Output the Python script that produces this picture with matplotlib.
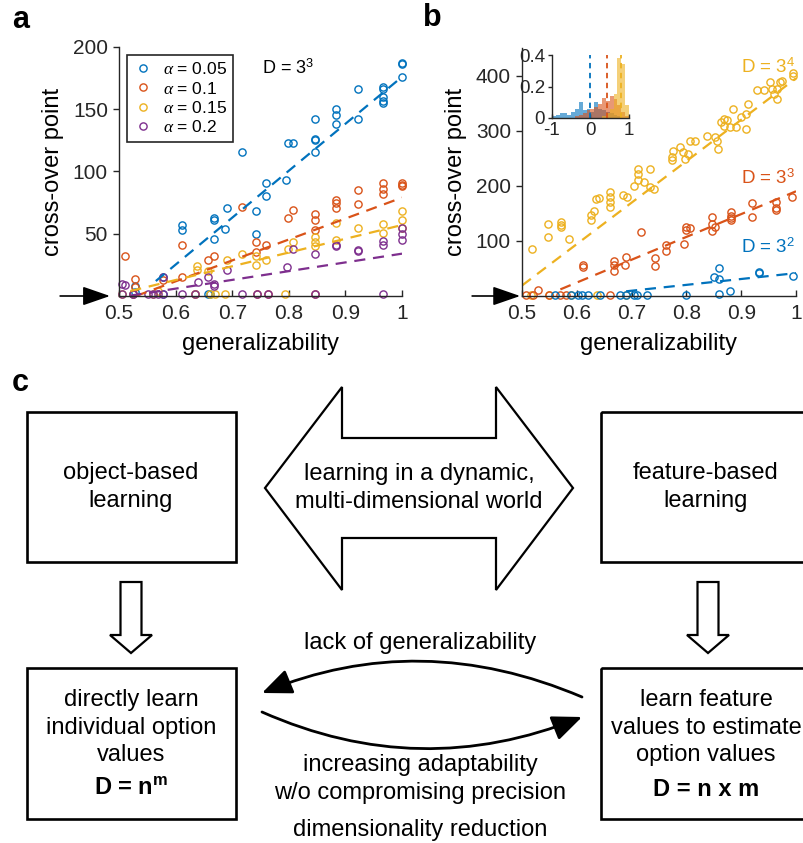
import numpy as np
import matplotlib
matplotlib.use('Agg')
import matplotlib.pyplot as plt
from matplotlib.patches import Polygon, Rectangle, FancyArrowPatch
from matplotlib.path import Path
from matplotlib.ticker import FormatStrFormatter

plt.rcParams['font.family'] = ['Liberation Sans', 'DejaVu Sans']
plt.rcParams['mathtext.fontset'] = 'custom'
plt.rcParams['mathtext.rm'] = 'Liberation Sans'
plt.rcParams['mathtext.it'] = 'Liberation Serif:italic'
plt.rcParams['mathtext.bf'] = 'Liberation Sans:bold'

BLUE, ORANGE, YELLOW, PURPLE = '#0072BD', '#D95319', '#EDB120', '#7E2F8E'
AXC = '#262626'

# ---------------- panel a data (D = 3^3) ----------------
alpha_labels = [r'$\alpha$ = 0.05', r'$\alpha$ = 0.1', r'$\alpha$ = 0.15', r'$\alpha$ = 0.2']

a_blue_g = [1.0, 1.0, 1.0, 0.966, 0.966, 0.966, 0.966, 0.966, 0.922, 0.922, 0.884, 0.884, 0.884,
            0.846, 0.846, 0.846, 0.846, 0.799, 0.808, 0.795, 0.76, 0.76, 0.742, 0.742, 0.718, 0.69,
            0.687, 0.668, 0.668, 0.668, 0.611, 0.611, 0.578, 0.528, 0.528, 0.657, 0.525, 0.578, 0.661]
a_blue_v = [187, 186, 176, 168, 166, 160, 157, 155, 166, 142, 150, 145, 138,
            142, 126, 125, 116, 123, 123, 93, 91, 80, 50, 68, 116, 71,
            54, 63, 61, 46, 57, 53, 15, 8, 3, 1.5, 1.5, 1.5, 1.5]

a_orange_g = [1.0, 1.0, 1.0, 0.966, 0.966, 0.966, 0.922, 0.922, 0.884, 0.884, 0.884,
              0.846, 0.846, 0.846, 0.808, 0.799, 0.76, 0.742, 0.742, 0.718, 0.668, 0.657,
              0.611, 0.611, 0.578, 0.528, 0.528, 0.51, 0.525, 0.634, 0.743, 0.763, 0.846]
a_orange_v = [91, 89, 88, 91, 86, 82, 85, 74, 77, 75, 71,
              66, 61, 53, 69, 63, 41, 43, 35, 71.5, 32, 29,
              41, 15, 13, 14, 7, 32, 1.5, 1.5, 1.5, 1.5, 1.5]

a_yellow_g = [1.0, 1.0, 1.0, 0.966, 0.966, 0.922, 0.884, 0.884, 0.846, 0.846, 0.846,
              0.808, 0.799, 0.76, 0.742, 0.742, 0.718, 0.69, 0.637, 0.637, 0.657, 0.569,
              0.505, 0.56, 0.634, 0.661, 0.67, 0.687, 0.794]
a_yellow_v = [68, 61, 55, 58, 51, 55, 59, 45, 47, 43, 40,
              43, 38, 29, 32, 25, 34, 29, 24, 21, 20, 4,
              1.5, 1.5, 1.5, 1.5, 1.5, 1.5, 1.5]

a_purple_g = [1.0, 1.0, 1.0, 0.966, 0.966, 0.922, 0.922, 0.884, 0.884, 0.846, 0.808, 0.796,
              0.69, 0.668, 0.668, 0.657, 0.64, 0.578, 0.505, 0.511,
              0.505, 0.525, 0.551, 0.56, 0.569, 0.578, 0.611, 0.634, 0.717, 0.743, 0.763, 0.846, 0.966]
a_purple_v = [55, 50, 45, 44, 41, 37, 36, 41, 40, 34, 38, 23,
              21, 10, 8, 15, 11, 15, 10, 9,
              1.5, 1.5, 1.5, 1.5, 1.5, 1.5, 1.5, 1.5, 1.5, 1.5, 1.5, 1.5, 1.5]

a_fit_g = [[0.565, 1.0], [0.53, 1.0], [0.52, 1.0], [0.52, 1.0]]
a_fit_v = [[12, 176], [0, 79], [4, 57], [0.3, 34]]

# ---------------- panel b data (alpha = 0.05, different D) ----------------
b_labels = [r'D = 3$^4$', r'D = 3$^3$', r'D = 3$^2$']
b_label_y = [415, 214, 89]

b_yellow_g = [0.519, 0.547, 0.547, 0.572, 0.572, 0.572, 0.586, 0.626, 0.626, 0.632, 0.635, 0.64,
              0.66, 0.66, 0.66, 0.66, 0.684, 0.691, 0.705, 0.712, 0.712, 0.712, 0.723, 0.734,
              0.734, 0.74, 0.774, 0.774, 0.775, 0.788, 0.794, 0.797, 0.803, 0.807, 0.815, 0.838,
              0.852, 0.856, 0.858, 0.864, 0.868, 0.874, 0.869, 0.879, 0.89, 0.885, 0.9, 0.909,
              0.908, 0.912, 0.929, 0.941, 0.953, 0.956, 0.959, 0.965, 0.965, 0.971, 0.975, 0.994,
              0.994, 0.517, 0.549, 0.59, 0.637, 0.689]
b_yellow_v = [86, 131, 107, 134, 129, 125, 104, 137, 147, 155, 176, 178,
              189, 179, 170, 162, 184, 179, 200, 231, 222, 210, 207, 231,
              198, 195, 252, 246, 264, 270, 261, 249, 258, 281, 281, 291,
              288, 282, 266, 315, 321, 320, 309, 306, 306, 340, 324, 330,
              303, 349, 374, 373, 388, 376, 367, 358, 376, 388, 391, 400,
              405, 2, 2, 2, 2, 2]

b_orange_g = [0.993, 0.964, 0.964, 0.964, 0.92, 0.92, 0.882, 0.882, 0.882, 0.882,
              0.846, 0.846, 0.846, 0.852, 0.8, 0.8, 0.807, 0.795, 0.763, 0.763, 0.742, 0.742,
              0.718, 0.689, 0.688, 0.668, 0.668, 0.668, 0.612, 0.612, 0.529,
              0.508, 0.57, 0.581, 0.66, 0.52, 0.55]
b_orange_v = [180, 170, 160, 156, 168, 144, 152, 146, 141, 137,
              144, 130, 118, 125, 126, 120, 123, 94, 92, 82, 69, 54,
              116, 71, 56, 63, 57, 45, 56, 53, 11,
              2, 2, 2, 2, 2, 2]

b_blue_g = [0.994, 0.932, 0.932, 0.859, 0.85, 0.859, 0.879, 0.859,
            0.59, 0.602, 0.61, 0.643, 0.678, 0.689, 0.704, 0.71, 0.728, 0.8, 0.56, 0.62]
b_blue_v = [37, 44, 42, 50, 35, 30, 9, 4,
            2, 2, 2, 2, 2, 2, 2, 2, 2, 2, 2, 2]

b_fit_g = [[0.5, 1.0], [0.57, 1.0], [0.69, 1.0]]
b_fit_v = [[19, 395], [12, 190], [8.5, 41.5]]

# inset histogram (bins of 0.1 from -1 to 1)
hist_edges = np.round(np.arange(-1.0, 1.01, 0.1), 2)
hist_blue = [0.01, 0.02, 0.03, 0.03, 0.02, 0.04, 0.06, 0.10, 0.05, 0.06,
             0.04, 0.10, 0.06, 0.05, 0.04, 0.03, 0.02, 0.01, 0.0, 0.0]
hist_orange = [0, 0, 0, 0, 0, 0, 0.01, 0.02, 0.03, 0.05,
               0.06, 0.07, 0.09, 0.13, 0.11, 0.14, 0.12, 0.08, 0.04, 0.01]
hist_yellow = [0, 0, 0, 0, 0, 0, 0, 0, 0, 0,
               0, 0, 0, 0.01, 0.03, 0.06, 0.15, 0.38, 0.34, 0.08]
hist_medians = [0.0, 0.42, 0.78]

xticks_main = [0.5, 0.6, 0.7, 0.8, 0.9, 1.0]

W, H = 804, 843
fig = plt.figure(figsize=(W / 100, H / 100), dpi=100)

# background axes in pixel coordinates for the diagram and panel letters
bg = fig.add_axes([0, 0, 1, 1])
bg.set_xlim(0, W)
bg.set_ylim(H, 0)
bg.axis('off')


def px_axes(left, right, top, bottom):
    return fig.add_axes([left / W, 1 - bottom / H, (right - left) / W, (bottom - top) / H])


def style_axes(ax, fs=15):
    for s in ['top', 'right']:
        ax.spines[s].set_visible(False)
    for s in ['left', 'bottom']:
        ax.spines[s].set_color(AXC)
        ax.spines[s].set_linewidth(1.0)
    ax.tick_params(axis='x', direction='in', length=4, width=1, colors=AXC, labelsize=fs, pad=6)
    ax.tick_params(axis='y', direction='out', length=4, width=1, colors=AXC, labelsize=fs, pad=4)
    ax.xaxis.set_major_formatter(FormatStrFormatter('%g'))


mk = dict(marker='o', ls='none', mfc='none', ms=5.2, mew=1.0, clip_on=False)
dash = dict(ls=(0, (5, 3.5)), lw=1.6)

# ---------------- panel a ----------------
axa = px_axes(119, 402, 47, 296)
series_a = [(a_blue_g, a_blue_v, BLUE), (a_orange_g, a_orange_v, ORANGE),
            (a_yellow_g, a_yellow_v, YELLOW), (a_purple_g, a_purple_v, PURPLE)]
for (g, v, c), lab in zip(series_a, alpha_labels):
    axa.plot(g, v, color=c, label=lab, **mk)
for (g, v, c), fg, fv in zip(series_a, a_fit_g, a_fit_v):
    axa.plot(fg, fv, color=c, **dash)
axa.set_xlim(0.5, 1.0)
axa.set_ylim(0, 200)
axa.set_xticks(xticks_main)
axa.set_yticks([50, 100, 150, 200])
style_axes(axa)
axa.set_xlabel('generalizability', fontsize=17, labelpad=7)
axa.set_ylabel('cross-over point', fontsize=17, labelpad=6)
leg = axa.legend(loc='upper left', bbox_to_anchor=(0.028, 0.968), borderaxespad=0,
                 fontsize=12.5, fancybox=False, edgecolor=AXC, framealpha=1,
                 handlelength=1.2, handletextpad=0.5, labelspacing=0.2, borderpad=0.35)
leg.get_frame().set_linewidth(1.2)
axa.text(0.753, 183, r'D = 3$^3$', fontsize=13, va='center', color='black')
axa.annotate('', xy=(0.484, 0), xytext=(0.396, 0), annotation_clip=False,
             arrowprops=dict(arrowstyle='-|>,head_length=1.3,head_width=0.45',
                             mutation_scale=13, color='black', lw=1.2, shrinkA=0, shrinkB=0))

# ---------------- panel b ----------------
axb = px_axes(522, 796, 48, 296)
series_b = [(b_yellow_g, b_yellow_v, YELLOW), (b_orange_g, b_orange_v, ORANGE),
            (b_blue_g, b_blue_v, BLUE)]
for (g, v, c) in series_b:
    axb.plot(g, v, color=c, **mk)
for (g, v, c), fg, fv in zip(series_b, b_fit_g, b_fit_v):
    axb.plot(fg, fv, color=c, **dash)
for (g, v, c), lab, ly in zip(series_b, b_labels, b_label_y):
    axb.text(0.9, ly, lab, color=c, fontsize=13.5, va='center', clip_on=False)
axb.set_xlim(0.5, 1.0)
axb.set_ylim(0, 450)
axb.set_xticks(xticks_main)
axb.set_yticks([100, 200, 300, 400])
style_axes(axb)
axb.set_xlabel('generalizability', fontsize=17, labelpad=7)
axb.set_ylabel('cross-over point', fontsize=17, labelpad=6)
axb.annotate('', xy=(0.4965, 0), xytext=(0.409, 0), annotation_clip=False,
             arrowprops=dict(arrowstyle='-|>,head_length=1.3,head_width=0.45',
                             mutation_scale=13, color='black', lw=1.2, shrinkA=0, shrinkB=0))

# inset
axi = px_axes(552, 629, 55, 118)
axi.set_facecolor('none')
centers = (hist_edges[:-1] + hist_edges[1:]) / 2
for h, c in [(hist_blue, BLUE), (hist_orange, ORANGE), (hist_yellow, YELLOW)]:
    axi.bar(centers, h, width=0.1, color=c, alpha=0.6, linewidth=0)
for m, c in zip(hist_medians, [BLUE, ORANGE, YELLOW]):
    axi.axvline(m, color=c, ls=(0, (3, 2.5)), lw=1.3)
axi.set_xlim(-1, 1)
axi.set_ylim(0, 0.4)
axi.set_xticks([-1, 0, 1])
axi.set_yticks([0, 0.2, 0.4])
style_axes(axi, fs=13.5)
axi.tick_params(axis='x', pad=3, length=3)
axi.tick_params(axis='y', pad=2, length=3)
axi.yaxis.set_major_formatter(FormatStrFormatter('%g'))

# ---------------- panel letters ----------------
for lab, x, y in [('a', 12, 20), ('b', 423, 18), ('c', 12, 383)]:
    bg.text(x, y, lab, fontsize=22, fontweight='bold', va='center', ha='left')

# ---------------- panel c diagram ----------------
box_kw = dict(fill=False, edgecolor='black', lw=1.9)
bg.add_patch(Rectangle((27, 412), 209, 150, **box_kw))
bg.add_patch(Rectangle((601, 412), 260, 150, **box_kw, clip_on=False))
bg.add_patch(Rectangle((27, 668), 209, 151, **box_kw))
bg.add_patch(Rectangle((601, 668), 260, 151, **box_kw, clip_on=False))

dbl = [(342, 387), (265, 488), (342, 590), (342, 538), (496, 538), (496, 590),
       (573, 488), (496, 387), (496, 438), (342, 438)]
bg.add_patch(Polygon(dbl, closed=True, fill=False, edgecolor='black', lw=1.6, joinstyle='miter'))

for cx in [131, 708]:
    down = [(cx - 10.5, 582), (cx + 10.5, 582), (cx + 10.5, 635), (cx + 21, 635),
            (cx, 653), (cx - 21, 635), (cx - 10.5, 635)]
    bg.add_patch(Polygon(down, closed=True, fill=False, edgecolor='black', lw=1.6, joinstyle='miter'))

for verts in [[(582, 697), (420, 628), (262, 693)], [(262, 712), (420, 782), (582, 717)]]:
    p = Path(verts, [Path.MOVETO, Path.CURVE3, Path.CURVE3])
    bg.add_patch(FancyArrowPatch(path=p, arrowstyle='-|>,head_length=1.3,head_width=0.55',
                                 mutation_scale=14, color='black', lw=2.0))

fs_c = 17


def lines(x, rows, **kw):
    for txt, y in rows:
        bg.text(x, y, txt, ha='center', va='center', fontsize=fs_c, **kw)


lines(131, [('object-based', 473), ('learning', 501)])
lines(706, [('feature-based', 473), ('learning', 501)])
lines(419, [('learning in a dynamic,', 474), ('multi-dimensional world', 502)])
lines(131, [('directly learn', 700), ('individual option', 728), ('values', 755)])
bg.text(131, 789, r'$\mathbf{D\,=\,n^{m}}$', ha='center', va='center', fontsize=fs_c)
lines(706, [('learn feature', 700), ('values to estimate', 728), ('option values', 755)])
bg.text(706, 790, 'D = n x m', ha='center', va='center', fontsize=fs_c, fontweight='bold')
lines(420, [('lack of generalizability', 643), ('increasing adaptability', 765),
            ('w/o compromising precision', 793), ('dimensionality reduction', 830)])

fig.savefig('out.png', dpi=100)
